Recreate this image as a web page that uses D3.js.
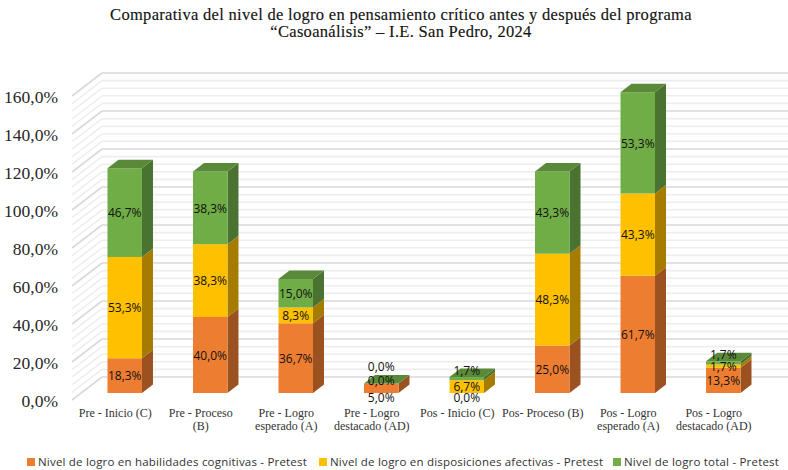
<!DOCTYPE html>
<html><head><meta charset="utf-8">
<script src="https://cdnjs.cloudflare.com/ajax/libs/d3/7.8.5/d3.min.js"></script>
<style>html,body{margin:0;background:#fff}svg{display:block}</style></head>
<body><svg id="c" width="788" height="470"></svg>
<script>
const categories = [["Pre - Inicio (C)"],["Pre - Proceso","(B)"],["Pre - Logro","esperado (A)"],["Pre - Logro","destacado (AD)"],["Pos - Inicio (C)"],["Pos- Proceso (B)"],["Pos - Logro","esperado (A)"],["Pos - Logro","destacado (AD)"]];
const habilidades = [18.3,40.0,36.7,5.0,0.0,25.0,61.7,13.3];
const disposiciones = [53.3,38.3,8.3,0.0,6.7,48.3,43.3,1.7];
const total = [46.7,38.3,15.0,0.0,1.7,43.3,53.3,1.7];
const seriesNames = ["Nivel de logro en habilidades cognitivas - Pretest","Nivel de logro en disposiciones afectivas - Pretest","Nivel de logro total - Pretest"];
const tickValues = [0,20,40,60,80,100,120,140,160];
const titleLines = ["Comparativa del nivel de logro en pensamiento crítico antes y después del programa","“Casoanálisis” – I.E. San Pedro, 2024"];

const colors = ["#ED7D31","#FFC000","#70AD47"], sideColors = ["#9C5220","#A67C00","#4A7230"], topColors = ["#BE6427","#CC9A00","#5A8A39"];
const fmt = v => v.toFixed(1).replace(".", ",") + "%";
const svg = d3.select("#c");
const serif = "'Liberation Serif',serif", sans = "'Open Sans','Noto Sans',sans-serif";

const y = d3.scaleLinear().domain([0,160]).range([393,89]);
const x = d3.scaleBand().domain(d3.range(8)).range([82,766]).paddingInner(0.5965).paddingOuter(0.298);
const backDy = -16, frontDy = 7, wallX0 = 72, wallX1 = 102, depthX = 11, depthY = -8.5;

// walls
const gridVals = d3.range(0,161,4);
const g = svg.append("g");
gridVals.forEach(v => {
  const major = v % 20 === 0, col = major ? "#d9d9d9" : "#eeeeee", w = 1.6;
  const yb = y(v)+backDy, yf = y(v)+frontDy;
  g.append("line").attr("x1",wallX1).attr("x2",788).attr("y1",yb).attr("y2",yb).attr("stroke",col).attr("stroke-width",w);
  g.append("line").attr("x1",wallX0).attr("x2",wallX1).attr("y1",yf).attr("y2",yb).attr("stroke",col).attr("stroke-width",w);
});

// bars
const stack = [habilidades,disposiciones,total];
const labelNudge = {"0-3":9,"1-3":-3.5,"2-3":-17,"0-4":4.5,"2-4":-8.5,"2-7":-9};
d3.range(8).forEach(i => {
  let base = 0;
  const bx = x(i), bw = x.bandwidth();
  stack.forEach((s,k) => {
    const v = s[i], y0 = y(base), y1 = y(base+v);
    if (v > 0) {
      g.append("polygon").attr("points",[[bx+bw,y0],[bx+bw+depthX,y0+depthY],[bx+bw+depthX,y1+depthY],[bx+bw,y1]].join(" ")).attr("fill",sideColors[k]);
      g.append("rect").attr("x",bx).attr("y",y1).attr("width",bw).attr("height",y0-y1).attr("fill",colors[k]);
    }
    base += v;
  });
  g.append("polygon").attr("points",[[bx,y(base)],[bx+depthX,y(base)+depthY],[bx+bw+depthX,y(base)+depthY],[bx+bw,y(base)]].join(" ")).attr("fill",topColors[2]);
});
// data labels
d3.range(8).forEach(i => {
  let base = 0;
  stack.forEach((s,k) => {
    const v = s[i], mid = y(base+v/2) + (labelNudge[k+"-"+i]||0);
    svg.append("text").attr("x",x(i)+x.bandwidth()/2).attr("y",mid+0.5).attr("dy","0.35em").attr("text-anchor","middle")
      .attr("font-family",sans).attr("font-size",12).attr("fill","#111").text(fmt(v));
    base += v;
  });
});

// axis labels
tickValues.forEach(v => svg.append("text").attr("x",58).attr("y",y(v)+frontDy+1).attr("dy","0.33em").attr("text-anchor","end")
  .attr("font-family",serif).attr("font-size",17.5).attr("fill","#262626").text(fmt(v)));
categories.forEach((lines,i) => lines.forEach((l,j) => svg.append("text").attr("x",x(i)+x.bandwidth()/2-9.5).attr("y",413+j*13.5).attr("dy","0.33em").attr("text-anchor","middle")
  .attr("font-family",serif).attr("font-size",12).attr("fill","#333").text(l)));

// title
titleLines.forEach((l,j) => svg.append("text").attr("x",401).attr("y",15+j*17).attr("dy","0.33em").attr("text-anchor","middle")
  .attr("font-family",serif).attr("font-size",16.5).attr("letter-spacing",0.3).attr("stroke","#222").attr("stroke-width",0.15).attr("fill","#111").text(l));

// legend
const legendX = [27,319,613];
seriesNames.forEach((n,k) => {
  svg.append("rect").attr("x",legendX[k]).attr("y",458).attr("width",8).attr("height",8).attr("fill",colors[k]);
  svg.append("text").attr("x",legendX[k]+11).attr("y",462).attr("dy","0.35em").attr("font-family",sans).attr("font-size",11.5).attr("letter-spacing",0.2).attr("fill","#333").text(n);
});
</script></body></html>
